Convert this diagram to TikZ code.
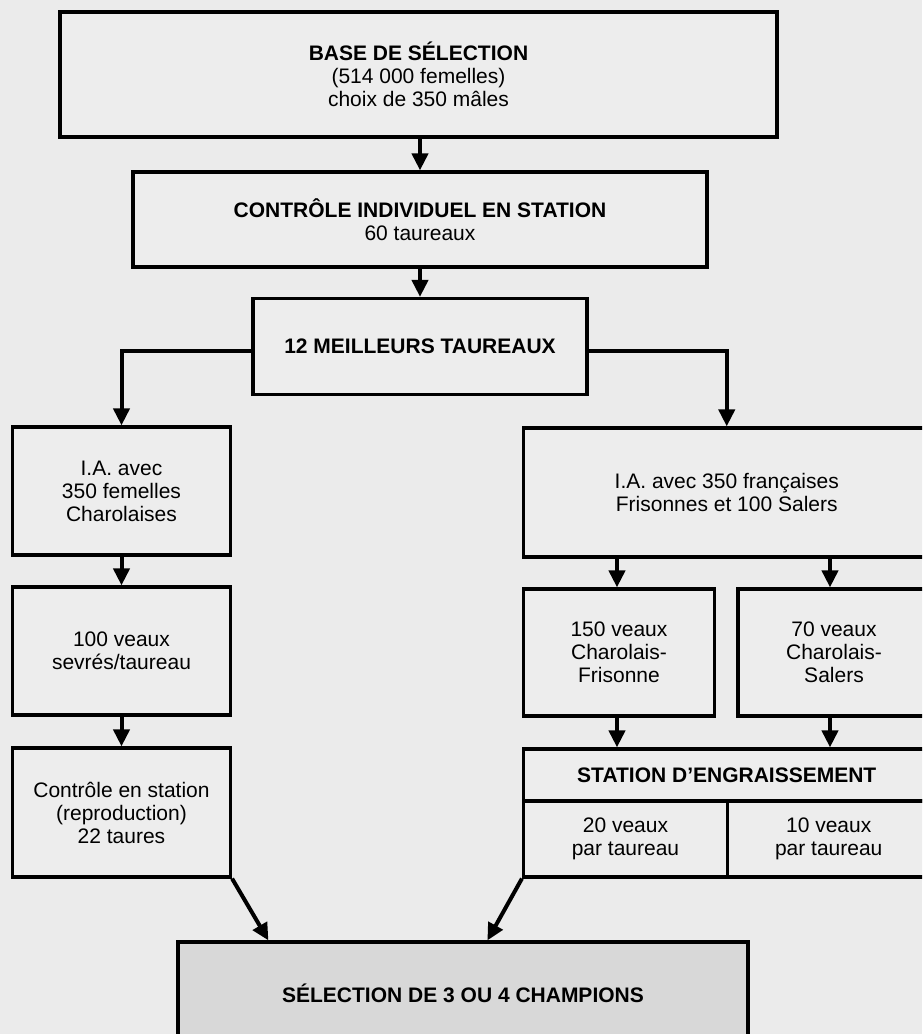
\documentclass[tikz,border=0pt]{standalone}
\usepackage{fontspec}
\setmainfont{Liberation Sans}
\usetikzlibrary{arrows.meta}
\definecolor{paper}{HTML}{EBEBEB}
\definecolor{boxfill}{HTML}{EDEDED}
\definecolor{champfill}{HTML}{D8D8D8}
\begin{document}
\begin{tikzpicture}[x=1pt, y=-1pt,
  box/.style={draw, line width=3.2pt, fill=boxfill, inner sep=0pt, align=center,
    font=\fontsize{21}{23}\selectfont},
  arr/.style={line width=4pt, -{Triangle[width=16pt,length=17pt]}}]

\useasboundingbox (0, 0) rectangle (922, 1034);
\fill[paper] (0, 0) rectangle (922, 1034);
\clip (0, 0) rectangle (922, 1034);

% main column
\node[box, minimum width=717, minimum height=125] (base) at (418.5, 74.5)
  {\textbf{BASE DE SÉLECTION}\\(514 000 femelles)\\choix de 350 mâles};
\node[box, minimum width=574, minimum height=95] (ctrl) at (420, 219.5)
  {\textbf{CONTRÔLE INDIVIDUEL EN STATION}\\60 taureaux};
\node[box, minimum width=334, minimum height=96] (best) at (420, 346.5)
  {\textbf{12 MEILLEURS TAUREAUX}};

% left branch
\node[box, minimum width=218, minimum height=128] (ia1) at (121.5, 491)
  {I.A. avec\\350 femelles\\Charolaises};
\node[box, minimum width=218, minimum height=128] (veaux1) at (121.5, 651)
  {100 veaux\\sevrés/taureau};
\node[box, minimum width=218, minimum height=129] (ctrl2) at (121.5, 812.5)
  {Contrôle en station\\(reproduction)\\22 taures};

% right branch
\node[box, minimum width=406.5, minimum height=129] (ia2) at (726.75, 492.5)
  {I.A. avec 350 françaises\\Frisonnes et 100 Salers};
\node[box, minimum width=191, minimum height=127] (frison) at (619, 652.5)
  {150 veaux\\Charolais-\\Frisonne};
\node[box, minimum width=192, minimum height=127] (salers) at (834, 652.5)
  {70 veaux\\Charolais-\\Salers};
\node[box, minimum width=406.5, minimum height=52] (station) at (726.75, 775)
  {\textbf{STATION D'ENGRAISSEMENT}};
\node[box, minimum width=204, minimum height=76] (stleft) at (625.5, 839)
  {20 veaux\\par taureau};
\node[box, minimum width=202.5, minimum height=76] (stright) at (828.75, 839)
  {10 veaux\\par taureau};

% final box
\node[box, fill=champfill, minimum width=570, minimum height=102] (champ) at (463, 993)
  {\textbf{SÉLECTION DE 3 OU 4 CHAMPIONS}};

% arrows
\draw[arr] (base.south -| ctrl.north) -- (ctrl.north);
\draw[arr] (ctrl.south) -- (best.north);
\draw[arr] ([yshift=-4]best.west) -| (ia1.north);
\draw[arr] ([yshift=-4]best.east) -| (ia2.north);
\draw[arr] (ia1) -- (veaux1);
\draw[arr] (veaux1) -- (ctrl2);
\draw[arr] ([xshift=-2]frison.north |- ia2.south) -- ([xshift=-2]frison.north);
\draw[arr] ([xshift=-4]salers.north |- ia2.south) -- ([xshift=-4]salers.north);
\draw[arr] ([xshift=-2]frison.south) -- ([xshift=-2]frison.south |- station.north);
\draw[arr] ([xshift=-4]salers.south) -- ([xshift=-4]salers.south |- station.north);
\draw[arr] (ctrl2.south east) -- ([xshift=92]champ.north west);
\draw[arr] (stleft.south west) -- ([xshift=311]champ.north west);

\end{tikzpicture}
\end{document}
